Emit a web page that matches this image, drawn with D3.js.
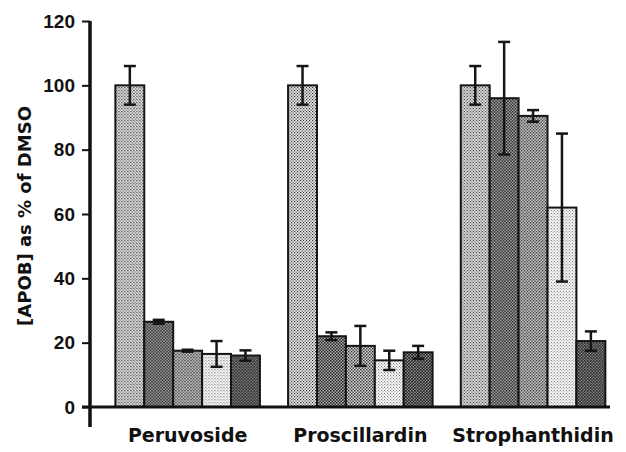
<!DOCTYPE html>
<html>
<head>
<meta charset="utf-8">
<script src="https://cdn.jsdelivr.net/npm/d3@7"></script>
<style>
  html, body { margin: 0; padding: 0; background: #fff; }
  svg { display: block; }
</style>
</head>
<body>
<svg id="chart" width="626" height="452"></svg>
<script>
// Compounds on the x axis and the five treatments drawn in each group
const compounds = ["Peruvoside", "Proscillardin", "Strophanthidin"];
const treatments = ["t1", "t2", "t3", "t4", "t5"];

// [APOB] as % of DMSO, one row per compound, one entry per treatment
const means = [
  [100, 26.5, 17.5, 16.5, 16],
  [100, 22, 19, 14.5, 17],
  [100, 96, 90.5, 62, 20.5]
];
// Error bar half-widths (same units)
const errors = [
  [6, 0.6, 0.3, 4, 1.6],
  [6, 1.2, 6.2, 3, 2],
  [6, 17.5, 1.8, 23, 3]
];
const yTicks = [0, 20, 40, 60, 80, 100, 120];
const yTitle = "[APOB] as % of DMSO";

// Halftone-like shades for the five treatments
const shades = [
  { bg: "#ededed", dot: 1.15 },
  { bg: "#b4b4b4", dot: 1.55 },
  { bg: "#dadada", dot: 1.35 },
  { bg: "#fbfbfb", dot: 0.8 },
  { bg: "#959595", dot: 1.7 }
];

const svg = d3.select("#chart");

const y = d3.scaleLinear().domain([0, 120]).range([407, 21]);
const x = d3.scaleBand().domain(compounds)
  .range([98.1, 622.6]).paddingInner(0.163).paddingOuter(0.1);
const xs = d3.scaleBand().domain(treatments).range([0, x.bandwidth()]);

// dot patterns for the bar fills
const defs = svg.append("defs");
shades.forEach((s, i) => {
  const p = defs.append("pattern")
    .attr("id", "shade" + i)
    .attr("patternUnits", "userSpaceOnUse")
    .attr("width", 3).attr("height", 3);
  p.append("rect").attr("width", 3).attr("height", 3).attr("fill", s.bg);
  p.append("rect").attr("x", 0).attr("y", 0)
    .attr("width", s.dot).attr("height", s.dot).attr("fill", "#222");
  p.append("rect").attr("x", 1.5).attr("y", 1.5)
    .attr("width", s.dot).attr("height", s.dot).attr("fill", "#222");
});

// bars
const groups = svg.append("g").selectAll("g")
  .data(compounds)
  .join("g")
  .attr("transform", d => `translate(${x(d)},0)`);

groups.selectAll("rect")
  .data((d, gi) => treatments.map((t, ti) => ({ t, ti, v: means[gi][ti], e: errors[gi][ti] })))
  .join("rect")
  .attr("x", d => xs(d.t))
  .attr("y", d => y(d.v))
  .attr("width", xs.bandwidth())
  .attr("height", d => y(0) - y(d.v))
  .attr("fill", d => `url(#shade${d.ti})`)
  .attr("stroke", "#151515")
  .attr("stroke-width", 2);

// error bars
const eb = groups.selectAll("g.err")
  .data((d, gi) => treatments.map((t, ti) => ({ t, ti, v: means[gi][ti], e: errors[gi][ti] })))
  .join("g")
  .attr("class", "err")
  .attr("stroke", "#151515")
  .attr("stroke-width", 2.5);

const cx = d => xs(d.t) + xs.bandwidth() / 2;
eb.append("line")
  .attr("x1", cx).attr("x2", cx)
  .attr("y1", d => y(d.v + d.e)).attr("y2", d => y(d.v - d.e));
eb.append("line")
  .attr("x1", d => cx(d) - 6).attr("x2", d => cx(d) + 6)
  .attr("y1", d => y(d.v + d.e)).attr("y2", d => y(d.v + d.e));
eb.append("line")
  .attr("x1", d => cx(d) - 6).attr("x2", d => cx(d) + 6)
  .attr("y1", d => y(d.v - d.e)).attr("y2", d => y(d.v - d.e));

// y axis
const yAxis = svg.append("g")
  .attr("transform", "translate(90,0)")
  .call(d3.axisLeft(y).tickValues(yTicks).tickSize(8).tickPadding(7).tickFormat(d3.format("d")));
yAxis.select(".domain").remove();
yAxis.selectAll(".tick line").attr("stroke", "#111").attr("stroke-width", 2);
yAxis.selectAll(".tick text")
  .attr("fill", "#111")
  .style("font-family", "'Liberation Sans', Arial, sans-serif")
  .style("font-weight", "bold")
  .style("font-size", "19px");

svg.append("line")
  .attr("x1", 90).attr("x2", 90)
  .attr("y1", y(120)).attr("y2", y(0) + 20)
  .attr("stroke", "#111").attr("stroke-width", 3.5);

// baseline
svg.append("line")
  .attr("x1", 82).attr("x2", 610)
  .attr("y1", y(0)).attr("y2", y(0))
  .attr("stroke", "#111").attr("stroke-width", 3);

// category labels
const xAxis = svg.append("g")
  .attr("transform", `translate(0,${y(0)})`)
  .call(d3.axisBottom(x).tickSize(0).tickPadding(22));
xAxis.select(".domain").remove();
xAxis.selectAll(".tick text")
  .attr("fill", "#111")
  .style("font-family", "'DejaVu Sans', sans-serif")
  .style("font-weight", "bold")
  .style("font-size", "19px");

// y axis title
svg.append("text")
  .attr("transform", "translate(31,216) rotate(-90)")
  .attr("text-anchor", "middle")
  .attr("fill", "#111")
  .style("font-family", "'DejaVu Sans', sans-serif")
  .style("font-weight", "bold")
  .style("font-size", "18px")
  .text(yTitle);
</script>
</body>
</html>
